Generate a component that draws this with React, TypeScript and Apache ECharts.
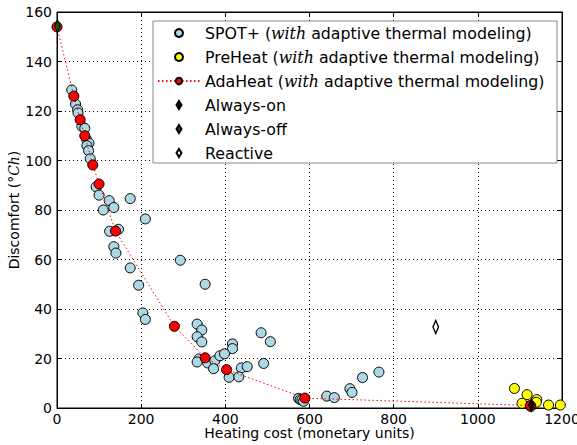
import React, { useEffect, useRef } from "react";
import * as echarts from "echarts";

const xTicks = [0, 200, 400, 600, 800, 1000, 1200];
const yTicks = [0, 20, 40, 60, 80, 100, 120, 140, 160];

const spotPlus: [number, number][] = [
  [35, 128.5], [44, 122.8], [49, 120.5], [50, 119.2], [59, 113.8], [66, 113],
  [70, 108.6], [76, 107], [71, 106], [75, 104], [79, 100.7], [93, 89.4],
  [100, 86], [110, 80], [124, 83.8], [135, 81], [174, 84.6], [210, 76.4],
  [125, 71.4], [146, 72.2], [135, 65.2], [140, 62.6], [293, 59.7], [174, 56.6],
  [194, 49.6], [352, 50], [204, 38.4], [210, 35.8], [333, 33.9], [344, 31.5],
  [333, 28.8], [344, 26.7], [485, 30.4], [507, 26.8], [417, 25.9], [417, 24],
  [337, 19.8], [333, 18.6], [358, 18.2], [375, 19.1], [387, 21.1], [398, 21.9],
  [491, 18], [372, 15.9], [438, 16.2], [452, 16.7], [409, 12.4], [432, 12.6],
  [574, 3.9], [578, 3.4], [582, 3.2], [586, 2.7], [641, 4.8], [659, 4.2],
  [696, 7.8], [701, 6.3], [726, 12.3], [765, 14.5],
];

const preHeat: [number, number][] = [
  [1087, 7.9], [1117, 5.4], [1105, 1.9], [1140, 3.4], [1139, 2.3],
  [1126, 0.6], [1168, 1.2], [1196, 1.2],
];

const adaHeat: [number, number][] = [
  [0, 154], [40, 126], [55, 116.5], [66, 110], [85, 98.2], [100, 90.5],
  [139, 71.5], [279, 33], [352, 20.3], [403, 15.5], [589, 4], [1125, 1],
];

const alwaysOn: [number, number][] = [[1127, 1.2]];
const alwaysOff: [number, number][] = [[1, 154.3]];
const reactive: [number, number][] = [[900, 32.7]];

const legendNames = [
  "SPOT+ (with adaptive thermal modeling)",
  "PreHeat (with adaptive thermal modeling)",
  "AdaHeat (with adaptive thermal modeling)",
  "Always-on",
  "Always-off",
  "Reactive",
];

const FONT = "DejaVu Sans";
const DIAMOND = "path://M4,0 L8,6.5 L4,13 L0,6.5 Z";

export default function App() {
  const ref = useRef<HTMLDivElement>(null);
  useEffect(() => {
    if (!ref.current) return;
    const chart = echarts.init(ref.current, undefined, { renderer: "svg" });
    const grid = { left: 57, right: 15, top: 12, bottom: 37 };
    const splitStyle = { color: "#000", type: [1, 3] as any, width: 1 };
    const tickStyle = { inside: true, length: 4, lineStyle: { color: "#000" } };
    const plainNum = (v: number) => String(v);
    chart.setOption({
      animation: false,
      backgroundColor: "#fff",
      textStyle: { fontFamily: FONT },
      grid: {
        ...grid,
        containLabel: false,
        outerBoundsMode: "none",
        show: true,
        borderColor: "#000",
        borderWidth: 1,
        backgroundColor: "#fff",
      },
      xAxis: [
        {
          type: "value",
          min: xTicks[0],
          max: xTicks[xTicks.length - 1],
          interval: 200,
          position: "bottom",
          name: "Heating cost (monetary units)",
          nameLocation: "middle",
          nameGap: 18,
          nameMoveOverlap: false,
          nameTextStyle: { fontFamily: FONT, fontSize: 14, lineHeight: 14, color: "#000" },
          axisLine: { show: true, onZero: false, lineStyle: { color: "#000" } },
          axisTick: tickStyle,
          axisLabel: { fontFamily: FONT, fontSize: 14, lineHeight: 13, color: "#000", margin: 4, formatter: plainNum },
          splitLine: { show: true, lineStyle: splitStyle },
        },
        {
          type: "value",
          min: xTicks[0],
          max: xTicks[xTicks.length - 1],
          interval: 200,
          position: "top",
          axisLine: { show: true, onZero: false, lineStyle: { color: "#000" } },
          axisTick: tickStyle,
          axisLabel: { show: false },
          splitLine: { show: false },
        },
      ],
      yAxis: [
        {
          type: "value",
          min: yTicks[0],
          max: yTicks[yTicks.length - 1],
          interval: 20,
          position: "left",
          name: "Discomfort ({i|°Ch})",
          nameLocation: "middle",
          nameGap: 36,
          nameMoveOverlap: false,
          nameRotate: 90,
          nameTextStyle: {
            fontFamily: FONT,
            fontSize: 14,
            color: "#000",
            rich: { i: { fontFamily: "DejaVu Serif", fontStyle: "italic", fontSize: 14, color: "#000" } },
          },
          axisLine: { show: true, onZero: false, lineStyle: { color: "#000" } },
          axisTick: tickStyle,
          axisLabel: { fontFamily: FONT, fontSize: 14, color: "#000", margin: 5, formatter: plainNum },
          splitLine: { show: true, lineStyle: splitStyle },
        },
        {
          type: "value",
          min: yTicks[0],
          max: yTicks[yTicks.length - 1],
          interval: 20,
          position: "right",
          axisLine: { show: true, onZero: false, lineStyle: { color: "#000" } },
          axisTick: tickStyle,
          axisLabel: { show: false },
          splitLine: { show: false },
        },
      ],
      graphic: [
        {
          type: "rect",
          z: 50,
          shape: { x: 153, y: 21, width: 404, height: 142 },
          style: { fill: "#fff", stroke: "#888", lineWidth: 1 },
        },
      ],
      legend: {
        z: 60,
        orient: "vertical",
        left: 157,
        top: 24,
        itemWidth: 42,
        itemHeight: 8,
        itemGap: 6,
        padding: 0,
        textStyle: {
          fontFamily: FONT,
          fontSize: 15.8,
          color: "#000",
          lineHeight: 18,
          rich: { i: { fontFamily: "DejaVu Serif", fontStyle: "italic", fontSize: 15.8, color: "#000", lineHeight: 18 } },
        },
        formatter: (name: string) => {
          const m = name.match(/^(.*)\(with (.*)\)$/);
          if (m) return `${m[1]}({i|with} ${m[2]})`;
          return name;
        },
        data: legendNames,
      },
      series: [
        {
          name: legendNames[0],
          type: "scatter",
          data: spotPlus,
          symbol: "circle",
          symbolSize: 10,
          clip: false,
          z: 2,
          itemStyle: { color: "#add8e6", borderColor: "#000", borderWidth: 1, opacity: 1 },
        },
        {
          name: legendNames[1],
          type: "scatter",
          data: preHeat,
          symbol: "circle",
          symbolSize: 10,
          clip: false,
          z: 3,
          itemStyle: { color: "#ffff00", borderColor: "#000", borderWidth: 1, opacity: 1 },
        },
        {
          name: legendNames[2],
          type: "line",
          data: adaHeat,
          symbol: "circle",
          symbolSize: 10,
          showSymbol: true,
          showAllSymbol: true,
          clip: false,
          z: 4,
          lineStyle: { color: "#ff0000", width: 1, type: [1.5, 2.5] as any },
          itemStyle: { color: "#ff0000", borderColor: "#000", borderWidth: 1 },
        },
        {
          name: legendNames[3],
          type: "scatter",
          data: alwaysOn,
          symbol: DIAMOND,
          symbolKeepAspect: true,
          symbolSize: [9, 13],
          clip: false,
          z: 5,
          itemStyle: { color: "#000", borderColor: "#000", borderWidth: 1, opacity: 1 },
        },
        {
          name: legendNames[4],
          type: "scatter",
          data: alwaysOff,
          symbol: DIAMOND,
          symbolKeepAspect: true,
          symbolSize: [9, 13],
          clip: false,
          z: 5,
          itemStyle: { color: "#006400", borderColor: "#000", borderWidth: 1, opacity: 1 },
        },
        {
          name: legendNames[5],
          type: "scatter",
          data: reactive,
          symbol: DIAMOND,
          symbolKeepAspect: true,
          symbolSize: [9, 13],
          clip: false,
          z: 5,
          itemStyle: { color: "#fff", borderColor: "#000", borderWidth: 1.5, opacity: 1 },
        },
      ],
    });
    return () => chart.dispose();
  }, []);
  return (
    <div
      ref={ref}
      style={{ position: "fixed", left: 0, top: 0, width: 577, height: 445 }}
    />
  );
}
